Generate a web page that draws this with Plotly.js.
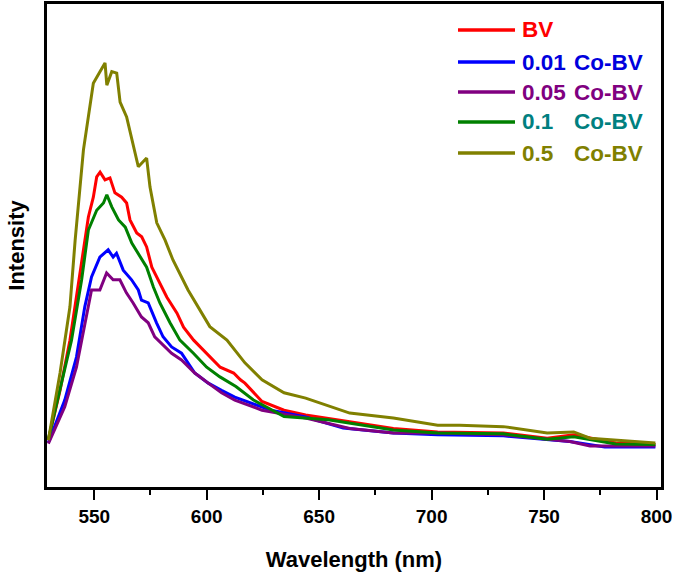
<!DOCTYPE html>
<html>
<head>
<meta charset="utf-8">
<script src="https://cdn.plot.ly/plotly-3.0.1.min.js"></script>
<style>html,body{margin:0;padding:0;background:#fff;}#chart{width:686px;height:581px;}</style>
</head>
<body>
<div id="chart"></div>
<script>
// Series names (legend)
const seriesNames = ['BV', '0.01', '0.05', '0.1', '0.5'];
const seriesSuffix = ['', 'Co-BV', 'Co-BV', 'Co-BV', 'Co-BV'];
const lineColors = ['#ff0000', '#0000ff', '#800080', '#008000', '#808000'];
const textColors = ['#ff0000', '#0000dd', '#800080', '#008080', '#808000'];

// Wavelength (nm) and intensity (a.u.)
const wlBV = [529.6,534.8,539.2,543.7,547.4,549.6,551.1,552.6,554.8,557,559.2,562.2,564.4,565.9,568.9,571.1,573.3,575.6,578.5,582.3,586.8,589.7,594.2,600.1,606,612,615,617,622.8,624.6,634.4,644,663.6,683,702.7,731.9,751.4,763.2,781.9,799.5];
const yBV  = [9.7,20,30.4,44.3,55.9,60,64.2,65.2,63.6,64,60.9,60,58.8,55.3,52.6,51.8,49.7,45.5,42.9,39.3,36,33.1,30.4,27.7,24.8,23.6,22.2,21.5,18.7,17.7,15.9,14.9,13.5,12.1,11.4,11.2,10.1,10.8,9.1,8.8];

const wl001 = [529.6,536.9,542.1,545.8,548.8,552.5,556.2,558.4,559.9,562.9,566.6,569.6,571,574,577.7,580.6,584.4,588.8,594.7,600.7,606.6,612.5,628.6,644,660.7,683,702.7,731.9,761.5,777,799.5];
const y001  = [9.2,18,26.9,37.3,43.5,47.6,49.1,47.6,48.4,44.9,42.9,40.8,38.7,38.1,34,31.1,29,27.7,23.6,21.5,20,18.6,15.9,14.5,12.2,11.2,10.8,10.6,9.4,8.3,8.3];

const wl005 = [529.6,536.9,542.1,545.8,548.8,552.5,555.5,558.4,561.4,564.3,567.3,571,574,576.9,579.9,584.4,588.8,594.7,600.7,606.6,612.5,624.6,644,663.6,683,702.7,731.9,761.5,770.4,799.5];
const y005  = [9.0,16.6,24.8,34,40.8,40.8,44.3,42.9,42.9,40.2,38.1,35.2,34,31.1,29.8,27.7,26.3,23.6,21.5,19.5,18,15.9,14.3,12.1,11.2,11.2,10.8,9.4,8.5,8.5];

const wl01 = [529.6,534.8,539.9,544.4,547.4,551.1,554.1,555.6,557.8,560.8,563.8,566.7,570.4,573.3,576.3,579.2,583.7,588.1,594.1,600,605.9,613,620.8,634.4,654,683,702.7,731.9,751.4,763.2,781.9,799.5];
const y01  = [9.9,20,30.4,42.9,53.2,57.3,58.8,60.5,58,55.3,53.8,50.5,47.6,45.5,41.4,38.1,34,30.4,27.7,24.8,22.8,20.8,18,14.6,13.9,11.8,11.2,11,9.9,10.4,8.9,8.8];

const wl05 = [529.6,534.8,539.2,541.5,545.2,549.6,552.6,554.8,555.6,557.8,560,561.5,564.4,566.7,569.6,573.3,574.8,577.8,581.5,585,591.7,601.4,609,617,624.6,634.4,644,663.6,683,702.7,712.5,731.9,751.4,763.2,770.4,799.5];
const y05  = [9.7,23.6,37.3,51,69.8,83.6,86,87.8,83.2,86,85.7,79.7,76.6,71.8,66.3,68.1,62.1,54.7,51.1,47,40.8,33.2,30.4,25.7,22.2,19.5,18.4,15.3,14.3,12.8,12.8,12.5,11.2,11.4,10.1,9.1];

const xTickVals = [550, 600, 650, 700, 750, 800];
const xTickText = ['550', '600', '650', '700', '750', '800'];
const xMinorVals = [575, 625, 675, 725, 775];

const xs = [wlBV, wl001, wl005, wl01, wl05];
const ys = [yBV, y001, y005, y01, y05];

const traces = xs.map((x, i) => ({
  x: x, y: ys[i], type: 'scatter', mode: 'lines',
  name: seriesNames[i] + (seriesSuffix[i] ? ' ' + seriesSuffix[i] : ''),
  line: {color: lineColors[i], width: 3},
  showlegend: false
}));

// custom legend (long sample lines like the original)
const shapes = [];
const annotations = [];
const rowY = [30, 62, 92, 122, 153];
const L = 47, T = 4, W = 614, H = 483;
const px2x = p => (p - L) / W;
const py2y = p => 1 - (p - T) / H;
const legFont = c => ({family: 'Arial, Liberation Sans', size: 22.5, weight: 'bold', color: c});
seriesNames.forEach((n, i) => {
  shapes.push({type: 'line', xref: 'paper', yref: 'paper',
    x0: px2x(458), x1: px2x(515), y0: py2y(rowY[i]), y1: py2y(rowY[i]),
    line: {color: lineColors[i], width: 3.5}});
  annotations.push({xref: 'paper', yref: 'paper', x: px2x(520), y: py2y(rowY[i]),
    xanchor: 'left', yanchor: 'middle', showarrow: false, text: n, font: legFont(textColors[i])});
  if (seriesSuffix[i]) {
    annotations.push({xref: 'paper', yref: 'paper', x: px2x(572), y: py2y(rowY[i]),
      xanchor: 'left', yanchor: 'middle', showarrow: false, text: seriesSuffix[i], font: legFont(textColors[i])});
  }
});

const layout = {
  width: 686, height: 581,
  margin: {l: 47, r: 25, t: 4, b: 94},
  paper_bgcolor: '#ffffff', plot_bgcolor: '#ffffff',
  showlegend: false,
  font: {family: 'Arial, Liberation Sans', color: '#000'},
  xaxis: {
    range: [529, 802], showgrid: false, zeroline: false,
    showline: true, mirror: true, linecolor: '#000', linewidth: 3,
    ticks: 'outside', ticklen: 10, tickwidth: 2, tickcolor: '#000',
    tickvals: xTickVals, ticktext: xTickText,
    minor: {tickvals: xMinorVals, ticks: 'outside', ticklen: 5, tickwidth: 2, tickcolor: '#000'},
    tickfont: {size: 19, weight: 'bold', color: '#000'},
    title: {text: 'Wavelength (nm)', font: {size: 22, weight: 'bold', color: '#000'}, standoff: 26}
  },
  yaxis: {
    range: [0, 100], showgrid: false, zeroline: false,
    showline: true, mirror: true, linecolor: '#000', linewidth: 3,
    ticks: '', showticklabels: false,
    title: {text: 'Intensity', font: {size: 22, weight: 'bold', color: '#000'}, standoff: 14}
  },
  shapes: shapes,
  annotations: annotations
};

Plotly.newPlot('chart', traces, layout, {displayModeBar: false, staticPlot: true});
</script>
</body>
</html>
